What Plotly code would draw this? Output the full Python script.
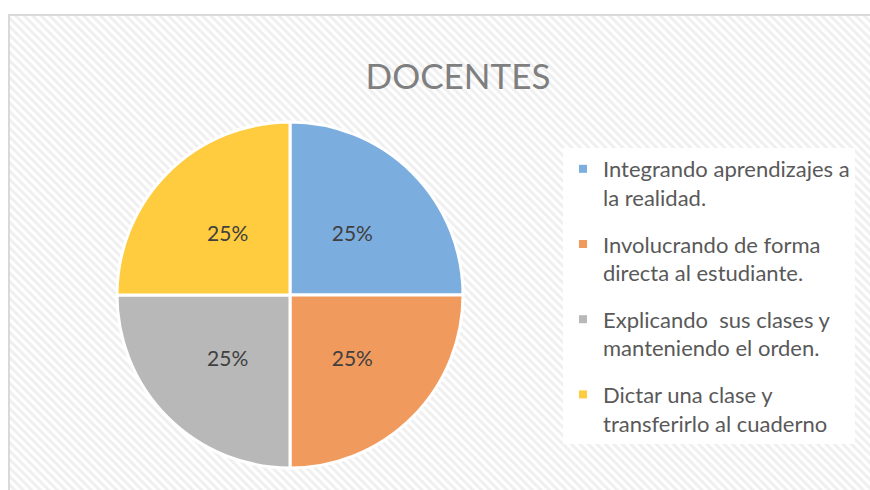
import plotly.graph_objects as go

# ---- data ----
categories = [
    "Integrando aprendizajes a<br>la realidad.",
    "Involucrando de forma<br>directa al estudiante.",
    "Explicando  sus clases y<br>manteniendo el orden.",
    "Dictar una clase y<br>transferirlo al cuaderno",
]
values = [25, 25, 25, 25]
colors = ["#7BAEDE", "#F19A5E", "#B8B8B8", "#FFCC40"]
title_text = "DOCENTES"

W, H = 870, 490
FONT = "Lato"

fig = go.Figure()

# hatched chart-area background (decoration)
x0 = 9 / W
y1 = 1 - 15 / H
fig.add_trace(go.Scatter(
    x=[x0, 1.2, 1.2, x0, x0],
    y=[-0.2, -0.2, y1, y1, -0.2],
    mode="lines",
    fill="toself",
    fillcolor="white",
    fillpattern=dict(shape="\\", fgcolor="#E0E0E0", bgcolor="#FFFFFF",
                     size=6, solidity=0.5),
    line=dict(color="#D9D9D9", width=2),
    hoverinfo="skip",
    showlegend=False,
))

cx, cy, r = 290, 295, 173
# main pie: slices
fig.add_trace(go.Pie(
    labels=categories,
    values=values,
    sort=False,
    direction="clockwise",
    rotation=0,
    marker=dict(colors=colors, line=dict(color="white", width=3)),
    textinfo="none",
    domain=dict(x=[(cx - r) / W, (cx + r) / W],
                y=[1 - (cy + r) / H, 1 - (cy - r) / H]),
    hoverinfo="label+percent",
    showlegend=False,
))

# percentage labels (same data, transparent, slightly smaller radius)
r2 = r * 0.87
fig.add_trace(go.Pie(
    labels=categories,
    values=values,
    sort=False,
    direction="clockwise",
    rotation=0,
    marker=dict(colors=["rgba(0,0,0,0)"] * len(values),
                line=dict(width=0)),
    textinfo="percent",
    texttemplate="%{percent:.0%}",
    textposition="inside",
    insidetextorientation="horizontal",
    textfont=dict(family=FONT, size=21, color="#404040"),
    domain=dict(x=[(cx - r2) / W, (cx + r2) / W],
                y=[1 - (cy + r2) / H, 1 - (cy - r2) / H]),
    hoverinfo="skip",
    showlegend=False,
))

# legend entries (one per category)
for i, (lab, col) in enumerate(zip(categories, colors)):
    fig.add_trace(go.Scatter(
        x=[None], y=[None], mode="markers", name=lab,
        marker=dict(symbol="square", size=8, color=col),
        legendgroup=str(i), showlegend=True, hoverinfo="skip",
    ))

fig.update_layout(
    width=W, height=H,
    margin=dict(l=0, r=0, t=0, b=0),
    paper_bgcolor="white",
    plot_bgcolor="rgba(0,0,0,0)",
    xaxis=dict(range=[0, 1], domain=[0, 1], visible=False, fixedrange=True),
    yaxis=dict(range=[0, 1], domain=[0, 1], visible=False, fixedrange=True),
    title=dict(text=title_text, x=458 / W, xanchor="center",
               y=1 - 77 / H, yanchor="middle",
               font=dict(family=FONT, size=35, color="#7F7F7F")),
    legend=dict(
        x=563 / W, xanchor="left",
        y=1 - 148 / H, yanchor="top",
        bgcolor="white",
        font=dict(family=FONT, size=22, color="#595959"),
        valign="top",
        tracegroupgap=15,
        itemclick=False, itemdoubleclick=False,
    ),
    font=dict(family=FONT),
    showlegend=True,
)

fig.write_html(
    "out.html",
    config={"displayModeBar": False},
    post_script="document.body.style.margin='0';document.body.style.overflow='hidden';",
)
